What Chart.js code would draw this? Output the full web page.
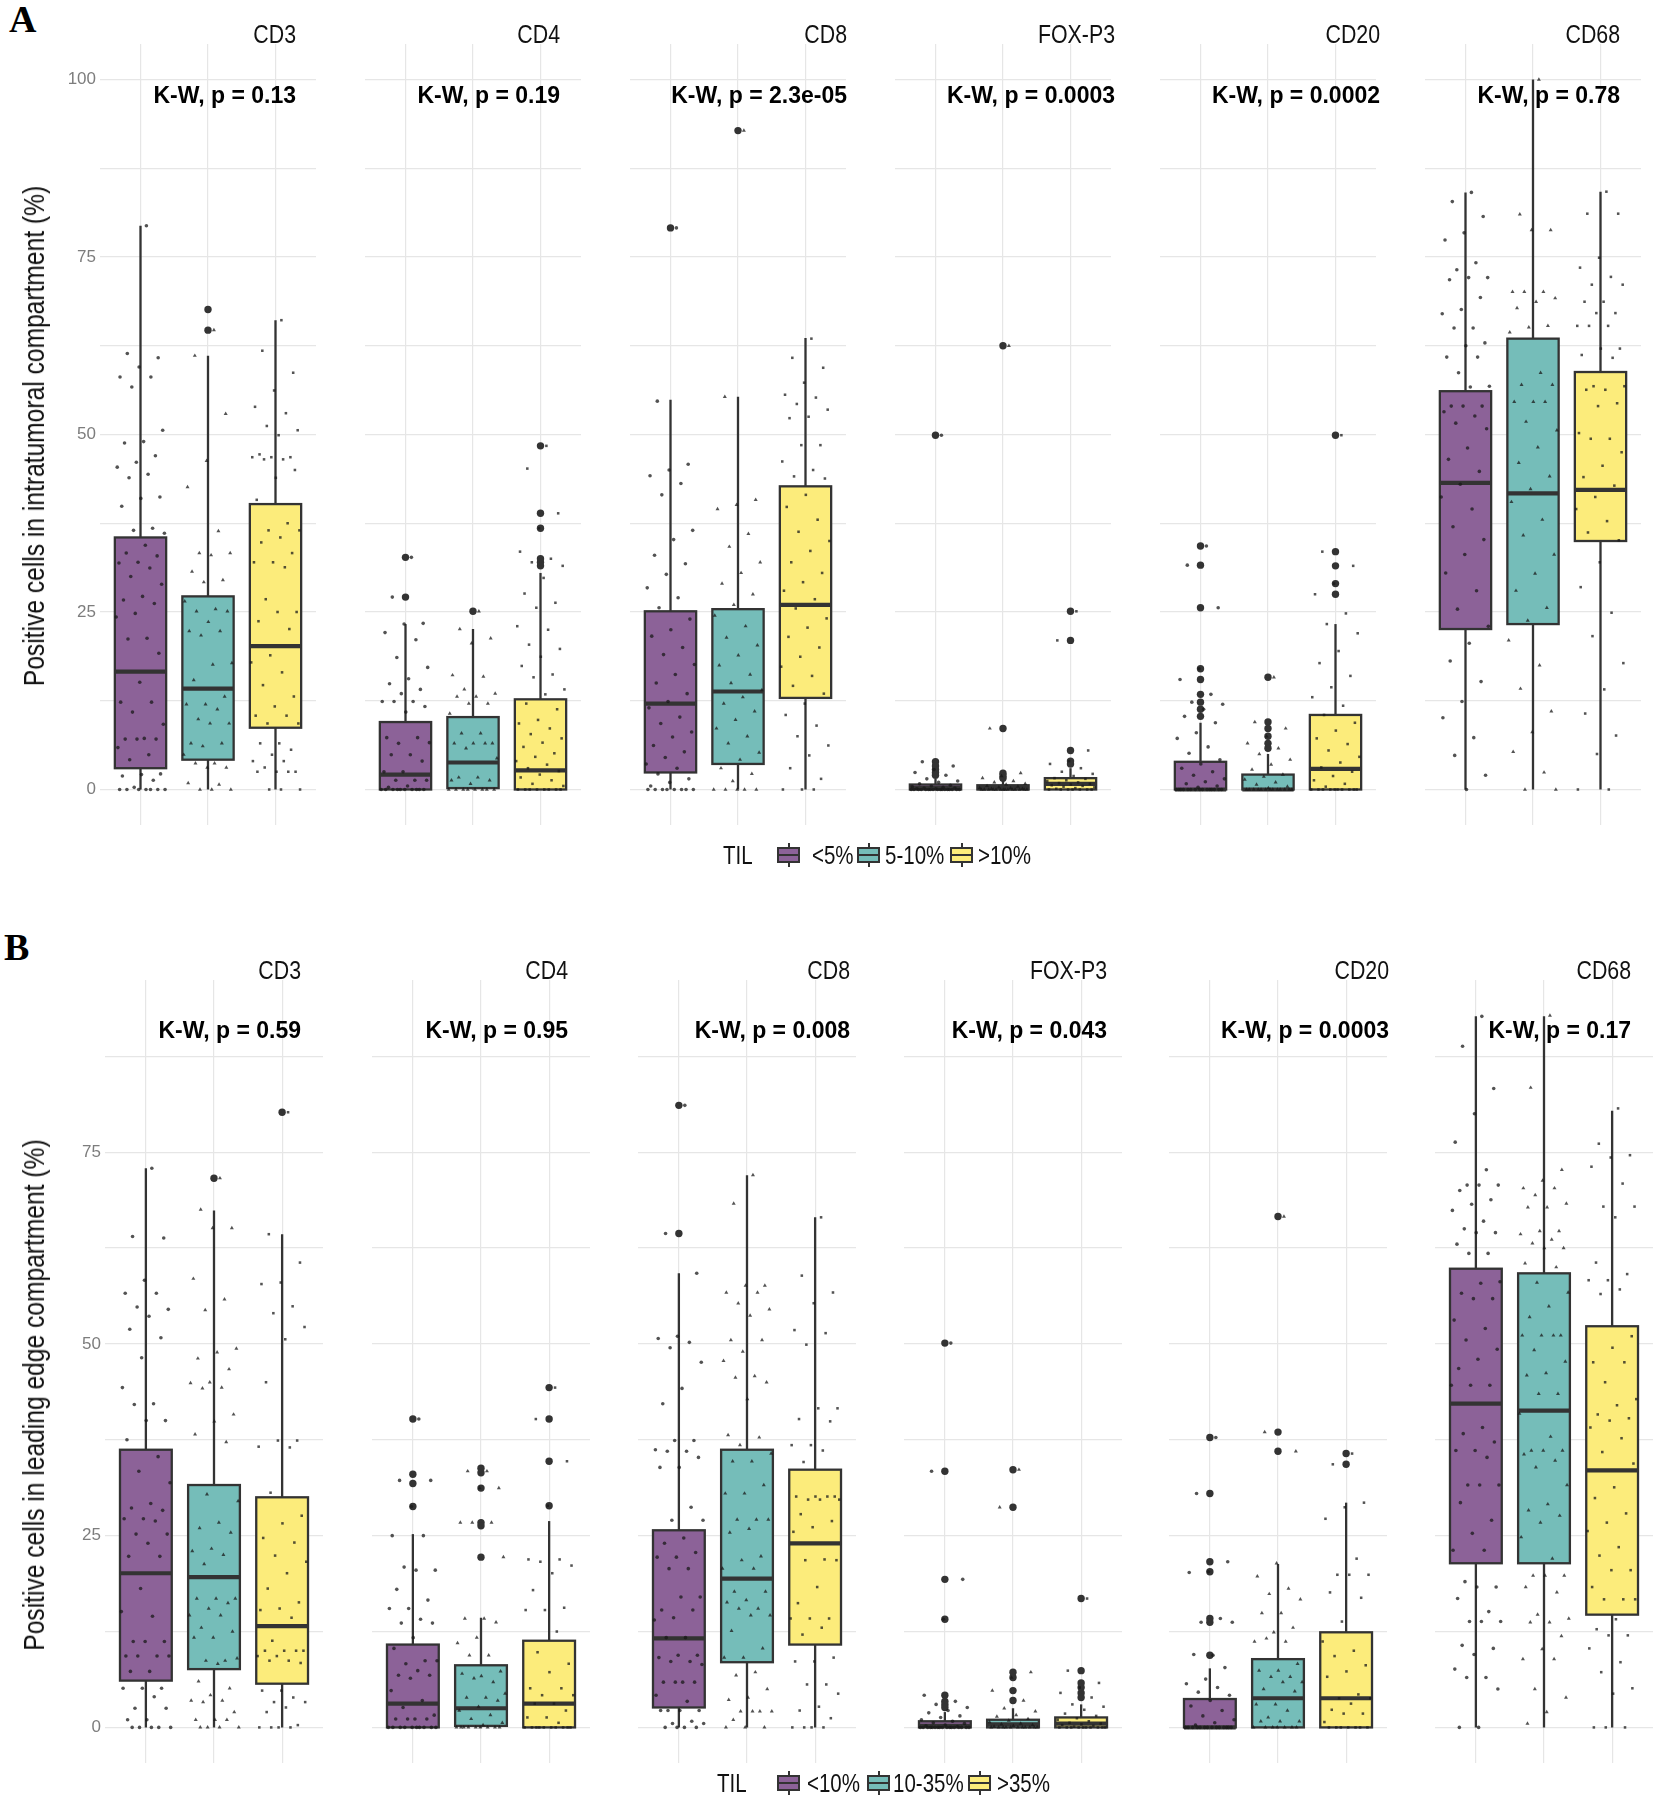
<!DOCTYPE html>
<html>
<head>
<meta charset="utf-8">
<script src="https://cdn.jsdelivr.net/npm/chart.js@4.4.1/dist/chart.umd.min.js"></script>
<style>
html,body{margin:0;padding:0;background:#fff;}
body{width:1658px;height:1800px;position:relative;overflow:hidden;}
.facet{position:absolute;}
.letter{position:absolute;font-family:'Liberation Serif','Times New Roman',serif;font-weight:bold;font-size:38px;line-height:1;color:#000;}
.ytitle{position:absolute;white-space:nowrap;font-family:'Liberation Sans',Arial,sans-serif;font-size:30px;color:#111;transform:translate(-50%,-50%) rotate(-90deg) scaleX(0.82);line-height:1;}
.ltxt{position:absolute;white-space:nowrap;font-family:'Liberation Sans',Arial,sans-serif;font-size:25px;color:#111;line-height:1;transform-origin:0 50%;transform:translateY(-50%) scaleX(0.82);}
.key{position:absolute;width:23px;height:24px;transform:translateY(-50%);}
.key .wh{position:absolute;left:10.5px;width:2px;top:0;height:24px;background:#333;}
.key .bx{position:absolute;left:0;top:4px;width:23px;height:16px;border:2px solid #333;box-sizing:border-box;}
.key .md{position:absolute;left:0;top:11px;width:23px;height:2px;background:#333;}
</style>
</head>
<body>
<script>
// ---------------- DATA ----------------
const markers = ["CD3", "CD4", "CD8", "FOX-P3", "CD20", "CD68"];
const groupsA = ["<5%", "5-10%", ">10%"];
const groupsB = ["<10%", "10-35%", ">35%"];
const pLabelsA = ["K-W, p = 0.13", "K-W, p = 0.19", "K-W, p = 2.3e-05", "K-W, p = 0.0003", "K-W, p = 0.0002", "K-W, p = 0.78"];
const pLabelsB = ["K-W, p = 0.59", "K-W, p = 0.95", "K-W, p = 0.008", "K-W, p = 0.043", "K-W, p = 0.0003", "K-W, p = 0.17"];
const yTitleA = "Positive cells in intratumoral compartment (%)";
const yTitleB = "Positive cells in leading edge compartment (%)";

// box statistics [marker][group]
const lowA  = [[0,0,0],[0,0,0],[0,0,0],[0,0,0],[0,0,0],[0,0,0]];
const q1A   = [[3.0,4.2,8.7],[0,0.2,0],[2.4,3.6,12.9],[0,0,0],[0,0,0],[22.6,23.3,35.0]];
const medA  = [[16.6,14.2,20.2],[2.1,3.8,2.7],[12.1,13.8,26.0],[0.2,0.2,0.8],[0,0,2.9],[43.2,41.7,42.2]];
const q3A   = [[35.5,27.2,40.2],[9.5,10.2,12.7],[25.1,25.4,42.7],[0.7,0.6,1.6],[3.9,2.1,10.5],[56.1,63.5,58.8]];
const highA = [[79.4,61.1,66.1],[23.3,22.6,30.5],[54.9,55.3,63.6],[1.5,1.2,3.0],[9.4,5.0,23.3],[84.1,100,84.2]];
const outA = [
  [[],[67.6,64.7],[]],
  [[32.7,27.1],[25.1],[31.5,32.0,32.5,36.8,38.9,48.4]],
  [[79.1],[92.8],[]],
  [[49.9,3.9,3.3,2.8,2.4,2.0],[62.5,8.6,2.3,1.9,1.6],[25.1,21.0,5.5,4.0,3.6]],
  [[34.3,31.6,25.6,17.0,15.5,13.4,12.3,11.3,10.3],[15.8,9.5,8.6,7.5,6.5,5.8],[49.9,33.5,31.5,29.0,27.5]],
  [[],[],[]]
];

const lowB  = [[0,0,0],[0,0,0],[0,0,0],[0,0,0],[0,0,0],[0,0,0]];
const q1B   = [[6.1,7.6,5.7],[0,0.2,0],[2.6,8.5,10.8],[0,0,0],[0,0,0],[21.4,21.4,14.7]];
const medB  = [[20.1,19.6,13.2],[3.1,2.5,3.1],[11.6,19.4,24.0],[0.2,0.4,0.5],[0,3.8,3.8],[42.2,41.3,33.5]];
const q3B   = [[36.2,31.6,30.0],[10.8,8.1,11.3],[25.7,36.2,33.6],[0.8,1.0,1.3],[3.7,8.9,12.4],[59.8,59.2,52.3]];
const highB = [[72.9,67.4,64.3],[25.2,14.3,26.9],[59.2,72.0,66.5],[2.0,2.5,3.0],[7.7,21.3,29.3],[92.7,92.7,80.4]];
const outB = [
  [[],[71.6],[80.2]],
  [[40.2,33.0,31.8,28.8],[33.8,33.2,31.2,26.7,26.3,22.2],[44.3,40.2,34.7,28.9]],
  [[81.1,64.4],[],[]],
  [[50.1,33.4,19.3,14.1,4.2,3.4,3.0,2.6],[33.6,28.7,7.2,6.5,4.8,3.5],[16.8,7.4,5.8,5.2,4.5,3.9]],
  [[37.8,30.5,21.6,20.3,14.2,13.7,9.4],[66.6,38.5,36.0],[35.7,34.3]],
  [[],[],[]]
];

// individual observations (jittered points) [group]
const ptsA_CD3 = [
  [79.4,61.4,60.8,59.5,58.1,58.1,56.7,50.6,49.0,48.8,47.0,46.1,45.4,44.4,43.9,41.2,41.0,39.9,36.8,36.5,36.1,34.4,33.3,32.9,32.0,31.9,31.2,30.0,28.9,27.2,26.7,26.2,24.8,24.3,21.3,21.2,19.2,15.1,12.3,12.3,10.9,9.2,7.2,7.1,7.1,7.1,5.9,4.9,4.2,2.2,2.1,1.9,1.3,0.3,0,0,0,0,0,0,0],
  [64.7,61.1,52.9,46.3,42.6,36.4,33.3,33.3,33.0,30.7,29.5,29.2,26.5,25.4,25.1,25.1,23.6,22.3,22.3,21.7,17.8,17.6,15.4,13.1,12.0,12.0,11.3,9.9,9.3,9.3,6.5,6.5,6.1,4.9,3.7,3.7,3.1,3.1,0.9,0.7,0,0,0],
  [66.1,61.8,58.7,56.2,53.9,53.0,51.2,50.6,49.9,47.2,46.8,46.8,46.8,46.5,46.5,45.0,43.9,40.8,37.5,36.5,36.5,35.5,34.8,33.3,32.0,32.0,31.3,26.8,25.0,25.0,23.7,22.6,18.9,17.9,16.5,14.7,13.1,11.7,10.4,10.4,9.3,9.3,6.5,6.5,5.6,4.9,4.0,4.0,3.1,2.5,2.5,2.5,2.5,0,0,0]
];
const ptsA_CD4 = [
  [32.7,27.1,23.4,23.3,22.1,21.1,18.6,17.2,15.6,14.9,14.1,13.5,12.4,12.4,12.4,11.7,10.9,7.3,7.3,6.5,6.6,4.9,4.9,4.0,2.5,2.5,1.3,1.3,1.3,0.5,0.3,0,0,0,0,0,0,0,0,0,0],
  [25.1,22.6,21.3,20.6,16.1,15.9,14.1,13.5,13.1,13.1,12.1,12.1,10.7,7.9,7.9,6.5,6.5,6.5,6.5,5.8,4.4,1.7,1.7,1.3,0.8,1.3,0,0,0,0,0,0,0,0],
  [48.4,45.2,38.9,36.8,33.5,32.5,32.0,31.5,29.8,27.6,26.3,25.6,23.0,22.5,20.4,19.8,18.7,17.4,16.2,15.8,14.1,13.4,12.1,11.3,9.8,9.3,8.6,7.8,7.2,6.6,6.0,5.1,4.6,4.0,3.5,3.0,2.6,2.1,1.7,1.3,0.8,0.5,0,0,0,0,0,0,0,0]
];
const ptsA_CD8 = [
  [79.1,54.7,45.8,45.0,44.2,43.1,41.5,36.5,35.2,33.0,31.8,30.3,28.4,27.0,25.6,24.0,22.5,21.6,20.0,19.0,17.6,16.2,15.0,13.5,12.4,11.5,10.2,9.3,8.1,7.4,6.2,5.3,4.5,3.6,3.0,2.2,1.5,1.0,0.5,0,0,0,0,0,0,0,0],
  [92.8,55.3,40.8,40.1,39.5,36.0,34.2,32.0,30.5,29.0,27.5,26.0,24.5,23.0,21.4,20.3,18.9,17.5,16.2,15.0,14.0,13.0,12.1,11.0,9.8,8.6,7.5,6.5,5.2,4.2,3.0,2.2,1.2,0,0,0,0,0],
  [63.5,60.8,59.4,57.3,55.6,55.2,54.3,53.5,52.5,52.3,48.5,48.5,46.2,45.0,44.1,43.8,41.5,39.8,38.0,36.3,35.0,33.6,32.0,30.5,29.2,28.0,26.8,25.5,24.1,22.8,21.5,20.0,18.7,17.3,16.0,14.6,13.5,12.1,10.5,9.0,7.5,6.2,4.8,3.0,1.5,0,0,0]
];
const ptsA_FOXP3 = [
  [49.9,3.9,3.3,2.8,2.4,2.0,1.5,1.2,1.0,0.8,0.6,0.5,0.4,0.3,0.2,0.2,0.1,0.1,0,0,0,0,0,0,0,0,0,0,0,0,0,0,0,0,0],
  [62.5,8.6,2.3,1.9,1.6,1.2,1.0,0.8,0.7,0.5,0.4,0.3,0.2,0.2,0.1,0.1,0,0,0,0,0,0,0,0,0,0,0,0,0,0],
  [25.1,21.0,5.5,4.0,3.6,3.0,2.5,2.2,1.9,1.6,1.5,1.3,1.2,1.0,0.9,0.8,0.7,0.6,0.5,0.4,0.3,0.2,0.1,0,0,0,0,0,0,0]
];
const ptsA_CD20 = [
  [34.3,31.6,25.6,17.0,15.5,13.4,12.3,12.0,11.3,10.3,9.4,8.0,7.2,6.0,5.1,4.2,3.6,3.0,2.5,2.0,1.5,1.1,0.8,0.5,0.3,0,0,0,0,0,0,0,0,0,0,0,0,0,0,0],
  [15.8,9.5,8.6,7.5,6.5,5.8,5.0,4.2,3.5,2.8,2.1,1.8,1.4,1.0,0.7,0.4,0.2,0,0,0,0,0,0,0,0,0,0,0,0,0],
  [49.9,33.5,31.5,29.0,27.5,24.8,23.3,22.0,19.5,17.8,16.0,14.4,13.0,11.8,10.5,9.4,8.3,7.2,6.4,5.5,4.6,3.8,3.1,2.5,1.9,1.3,0.8,0.4,0,0,0,0,0,0,0,0,0,0]
];
const ptsA_CD68 = [
  [84.1,82.8,80.7,78.4,77.4,74.2,73.2,72.1,72.1,71.8,69.3,67.6,67.0,65.0,65.0,62.9,62.5,60.9,60.9,58.7,56.8,56.7,54.0,54.0,54.0,53.2,52.6,51.6,50.8,48.1,46.5,44.8,43.0,41.2,39.5,37.0,35.2,33.1,30.5,28.0,25.4,23.0,20.6,18.1,15.2,12.4,10.1,7.3,4.8,2.0,0],
  [100,81.0,78.8,78.8,70.1,70.1,70.1,69.2,68.7,67.8,65.3,65.1,64.4,58.7,57.0,57.0,54.6,54.6,54.6,51.8,50.6,48.2,46.0,44.1,42.3,40.5,38.0,35.8,33.1,30.4,28.0,25.6,23.8,21.0,17.5,14.2,11.0,8.1,5.3,2.4,0,0],
  [84.2,81.1,81.1,74.9,73.5,72.2,71.1,71.1,68.7,68.7,67.1,67.1,65.3,65.3,65.3,62.1,62.1,61.2,60.8,56.8,56.8,56.3,56.3,54.4,54.0,50.2,49.4,49.4,47.5,45.6,44.0,42.8,41.2,39.5,37.8,36.2,35.1,32.0,28.5,24.9,21.6,17.8,14.1,10.7,7.6,5.0,0,0]
];

const ptsB_CD3 = [
  [72.9,64.0,63.8,58.3,56.6,56.6,54.8,54.5,53.6,51.9,50.8,48.2,44.3,42.2,42.1,40.0,40.0,37.5,35.3,33.4,31.9,29.2,28.6,28.3,27.2,27.2,26.9,25.2,25.2,24.0,22.3,22.3,18.1,15.1,14.5,11.2,11.2,11.2,9.3,9.3,9.3,9.3,7.3,7.3,5.1,5.1,5.1,4.0,2.5,2.5,1.0,1.0,0,0,0,0,0],
  [71.6,67.5,65.1,65.1,58.5,55.8,54.4,49.4,48.9,48.1,46.7,45.0,44.9,44.3,44.2,40.8,39.9,38.2,37.2,30.4,29.5,26.7,26.0,25.4,23.3,23.0,22.5,21.3,16.8,16.8,16.8,16.2,15.5,14.6,14.6,13.0,12.5,11.7,11.7,8.7,8.7,9.0,8.3,6.0,5.1,4.2,3.5,3.5,3.3,2.0,1.0,1.0,1.0,0,0,0,0],
  [80.2,64.3,60.6,58.0,57.8,54.9,54.0,52.2,50.6,45.0,37.4,37.4,36.6,36.5,30.6,27.6,26.6,24.7,24.1,22.4,21.6,20.1,18.1,16.3,15.5,15.3,14.3,11.3,10.0,10.0,10.0,10.0,9.3,9.3,8.7,8.7,8.4,4.8,4.8,3.9,3.3,3.3,2.6,2.0,0.3,0,0,0,0]
];
const ptsB_CD4 = [
  [40.2,32.2,32.2,28.8,25.0,25.0,20.9,20.5,20.5,18.0,16.6,15.5,15.5,14.1,13.6,13.6,11.7,10.3,8.7,8.3,8.7,7.4,6.8,6.8,6.4,4.8,3.5,2.6,1.6,1.1,1.1,1.1,1.1,0,0,0,0,0,0,0,0,0,0],
  [33.4,33.4,31.2,31.2,26.7,26.7,26.7,22.2,14.2,14.2,13.7,11.7,11.0,9.4,9.4,7.3,6.7,7.0,5.9,6.4,4.4,3.9,3.9,3.5,2.7,2.2,1.6,1.1,0.6,0.3,0,0,0,0,0,0,0,0,0],
  [44.3,40.2,34.7,28.9,21.9,21.9,21.6,21.1,20.1,17.9,15.6,15.3,15.3,12.5,9.8,8.3,7.2,5.1,5.1,4.2,4.2,3.1,3.1,2.2,1.3,1.3,0.6,0,0,0,0,0,0,0,0,0,0]
];
const ptsB_CD8 = [
  [81.1,64.4,59.2,51.0,50.7,50.2,49.5,47.6,44.2,42.2,37.4,37.4,36.2,36.0,36.0,35.2,33.9,33.9,28.7,27.0,27.0,24.7,24.0,22.8,22.2,22.2,20.7,20.7,17.0,17.0,15.3,15.3,14.3,14.0,11.7,11.7,9.4,9.4,9.1,8.6,8.6,8.2,5.9,5.9,5.9,5.9,4.2,3.4,2.2,2.2,2.2,2.2,0.8,0.5,0.5,0,0,0,0],
  [72.0,68.3,57.6,57.6,56.7,56.7,55.3,54.5,53.7,50.5,50.5,49.0,47.8,45.8,45.6,45.0,42.8,38.1,37.8,36.8,35.7,34.7,34.7,31.6,30.5,30.5,27.1,27.1,27.1,25.9,25.4,22.3,21.8,20.7,20.7,17.7,17.7,16.6,16.3,15.5,15.5,14.6,14.6,12.6,10.3,9.1,9.1,7.2,6.8,5.0,3.9,3.6,2.1,2.1,2.1,2.1,1.0,0,0,0],
  [66.5,58.9,56.7,55.3,51.8,51.4,49.9,41.6,41.6,40.2,39.9,36.8,36.8,36.1,34.6,30.1,30.1,30.1,30.1,29.7,29.7,29.7,27.8,26.9,26.1,25.5,21.9,21.8,21.8,18.3,16.2,14.2,14.2,14.2,13.0,12.1,9.1,8.6,8.6,5.6,5.6,4.4,2.7,2.2,1.2,0,0,0,0]
];
const ptsB_FOXP3 = [
  [50.1,33.4,19.3,14.1,4.2,3.4,3.0,2.6,2.2,1.9,1.5,1.3,1.0,0.8,0.6,0.5,0.3,0.2,0.1,0,0,0,0,0,0,0,0,0,0,0,0,0,0,0,0,0],
  [33.6,28.7,7.2,6.5,4.8,3.5,2.5,2.1,1.6,1.4,1.1,0.9,0.7,0.5,0.4,0.3,0.2,0.1,0,0,0,0,0,0,0,0,0,0,0],
  [16.8,7.4,5.8,5.2,4.5,3.9,3.0,2.7,2.3,1.8,1.5,1.2,1.0,0.8,0.6,0.5,0.4,0.3,0.2,0.1,0,0,0,0,0,0,0,0,0,0]
];
const ptsB_CD20 = [
  [37.8,30.5,21.6,20.3,20.2,14.2,13.7,13.7,9.4,9.5,7.8,6.3,5.7,5.2,4.6,4.2,3.5,2.8,2.2,1.5,1.0,0.6,0.3,0,0,0,0,0,0,0,0,0,0,0,0,0,0],
  [66.6,38.5,36.0,21.4,19.7,18.1,17.4,16.7,14.9,14.9,13.0,12.4,11.2,11.2,11.6,8.3,7.4,7.4,6.6,6.6,5.9,5.9,5.0,4.7,3.0,3.0,2.2,1.3,0.8,0.8,0.8,0,0,0,0,0,0,0],
  [35.7,34.3,29.3,28.7,27.2,22.0,19.9,19.9,19.9,17.6,16.9,13.8,11.2,10.0,9.3,8.1,7.3,6.6,4.3,3.8,3.8,3.1,2.3,1.8,1.8,0.7,0,0,0,0,0,0,0]
];
const ptsB_CD68 = [
  [92.7,88.8,83.3,80.0,76.3,72.7,70.7,70.7,70.7,70.0,68.8,68.2,67.4,66.0,65.0,64.5,64.5,63.0,61.8,61.8,58.1,57.9,56.6,55.9,55.9,53.1,52.0,50.5,49.3,48.0,46.8,44.6,44.6,44.6,39.1,38.3,37.2,36.1,36.1,35.2,31.6,31.6,31.6,29.3,27.0,25.3,23.1,23.1,19.0,18.3,18.3,16.8,15.1,13.8,13.8,13.8,10.7,10.3,9.5,7.6,6.5,6.5,5.0,0,0],
  [92.8,83.4,72.7,71.3,70.3,70.3,69.4,68.3,67.8,67.8,64.7,64.7,64.3,63.6,63.1,62.5,62.5,60.5,60.0,58.0,56.7,54.9,53.5,51.1,51.1,51.1,51.1,49.2,47.7,46.2,45.9,43.5,43.5,40.9,37.9,36.1,36.1,36.1,35.6,34.8,33.9,31.6,29.1,28.3,27.6,26.7,24.8,22.0,19.8,19.8,19.8,18.3,17.6,14.7,14.2,13.7,13.7,11.9,10.2,8.9,8.9,5.0,3.9,2.0,0.5],
  [80.7,76.1,74.6,74.3,73.1,70.9,67.9,67.9,66.5,60.6,59.1,58.3,58.3,57.1,56.5,51.0,49.5,47.6,47.6,45.0,42.8,42.0,40.8,40.3,40.0,39.1,37.7,35.9,34.4,31.3,29.9,27.9,26.7,25.6,23.5,22.4,20.5,20.5,18.3,16.7,16.7,16.7,14.1,12.8,12.0,12.0,10.3,8.5,7.2,5.1,4.4,0,0,0]
];
const ptsA = [ptsA_CD3, ptsA_CD4, ptsA_CD8, ptsA_FOXP3, ptsA_CD20, ptsA_CD68];
const ptsB = [ptsB_CD3, ptsB_CD4, ptsB_CD8, ptsB_FOXP3, ptsB_CD20, ptsB_CD68];

// ---------------- STYLE / LAYOUT ----------------
const SANS = "'Liberation Sans',Arial,sans-serif";
const NARROW_SCALE = 0.82;
const FILLS = ['#8C6298', '#75BDB9', '#FCEC7B'];
const SHAPES = ['circle', 'triangle', 'rect'];
const GRID = '#e6e6e6';
const INK = '#333333';
const BOXW = 0.76;
const YW = 60, PT = 50, PR = 30, PB = 30;

const layoutA = { L: [100, 365, 630, 895, 1160, 1425], W: 216, T: 44, B: 825,
                  textDx: [-20, -21, 1, 4, 4, -21], titleDy: -8, kwDy: 53 };
const layoutB = { L: [105, 372, 638, 904, 1169, 1435], W: 218, T: 980, B: 1763,
                  textDx: [-22, -22, -6, -15, 2, -22], titleDy: -8, kwDy: 52 };

const jitter = i => ((((i + 1) * 0.6180339887) % 1) - 0.5) * 0.74;

function panelRange(low, high, outs, pts) {
  let mx = -Infinity, mn = Infinity;
  const upd = v => { if (v > mx) mx = v; if (v < mn) mn = v; };
  low.flat().forEach(upd); high.flat().forEach(upd);
  outs.flat(2).forEach(upd); pts.flat(2).forEach(upd);
  const pad = 0.05 * (mx - mn);
  return [mn - pad, mx + pad];
}

function makeFacet(lay, m, stats, outs, pts, pLabel, yRange, showTicks) {
  const L = lay.L[m], W = lay.W, H = lay.B - lay.T;
  const div = document.createElement('div');
  div.className = 'facet';
  div.style.left = (L - YW) + 'px';
  div.style.top = (lay.T - PT) + 'px';
  div.style.width = (W + YW + PR) + 'px';
  div.style.height = (H + PT + PB) + 'px';
  const cv = document.createElement('canvas');
  div.appendChild(cv);
  document.body.appendChild(div);

  const datasets = [];
  for (let g = 0; g < 3; g++) {
    datasets.push({
      label: 'pts' + g,
      data: pts[g].map((v, i) => ({ x: g + 1 + jitter(i), y: v })),
      pointStyle: SHAPES[g],
      pointRadius: g === 1 ? 2.3 : 1.8,
      backgroundColor: 'rgba(25,25,25,0.75)',
      borderColor: 'rgba(25,25,25,0.75)',
      borderWidth: 0,
      order: 1
    });
  }
  const outPts = [];
  for (let g = 0; g < 3; g++) outs[g].forEach(v => outPts.push({ x: g + 1, y: v }));
  datasets.push({
    label: 'outliers', data: outPts, pointStyle: 'circle', pointRadius: 3.7,
    backgroundColor: INK, borderColor: INK, borderWidth: 0, order: 2
  });

  const boxPlugin = {
    id: 'boxes' + m,
    beforeDatasetsDraw(chart) {
      const { ctx, scales: { x, y } } = chart;
      ctx.save();
      for (let g = 0; g < 3; g++) {
        const s = stats[g];
        const cx = x.getPixelForValue(g + 1);
        const x0 = x.getPixelForValue(g + 1 - BOXW / 2);
        const x1 = x.getPixelForValue(g + 1 + BOXW / 2);
        const yLo = y.getPixelForValue(s.lo), yQ1 = y.getPixelForValue(s.q1);
        const yMd = y.getPixelForValue(s.med), yQ3 = y.getPixelForValue(s.q3);
        const yHi = y.getPixelForValue(s.hi);
        ctx.strokeStyle = INK;
        ctx.lineWidth = 2.3;
        ctx.beginPath();
        ctx.moveTo(cx, yHi); ctx.lineTo(cx, yQ3);
        ctx.moveTo(cx, yQ1); ctx.lineTo(cx, yLo);
        ctx.stroke();
        ctx.fillStyle = FILLS[g];
        ctx.fillRect(x0, yQ3, x1 - x0, yQ1 - yQ3);
        ctx.strokeRect(x0, yQ3, x1 - x0, yQ1 - yQ3);
        ctx.lineWidth = 4.2;
        ctx.beginPath();
        ctx.moveTo(x0, yMd); ctx.lineTo(x1, yMd);
        ctx.stroke();
      }
      ctx.restore();
    },
    afterDraw(chart) {
      const { ctx, chartArea } = chart;
      const xr = chartArea.right + lay.textDx[m];
      ctx.save();
      ctx.textAlign = 'right';
      ctx.textBaseline = 'middle';
      // strip title (narrow face emulated by horizontal scaling)
      ctx.save();
      ctx.translate(xr, chartArea.top + lay.titleDy);
      ctx.scale(NARROW_SCALE, 1);
      ctx.fillStyle = '#111';
      ctx.font = '26px ' + SANS;
      ctx.fillText(markers[m], 0, 0);
      ctx.restore();
      ctx.fillStyle = '#000';
      ctx.font = 'bold 23px ' + SANS;
      ctx.fillText(pLabel, xr, chartArea.top + lay.kwDy);
      ctx.restore();
    }
  };

  new Chart(cv, {
    type: 'scatter',
    data: { datasets },
    plugins: [boxPlugin],
    options: {
      responsive: true, maintainAspectRatio: false, animation: false,
      events: [],
      layout: { autoPadding: false, padding: { top: PT, right: PR, bottom: PB, left: 0 } },
      plugins: { legend: { display: false }, tooltip: { enabled: false }, title: { display: false } },
      scales: {
        x: {
          type: 'linear', position: 'bottom', min: 0.4, max: 3.6,
          afterBuildTicks: s => { s.ticks = [1, 2, 3].map(v => ({ value: v })); },
          afterFit: s => { s.height = 0; s.paddingLeft = 0; s.paddingRight = 0; },
          ticks: { display: false, autoSkip: false },
          grid: { color: GRID, lineWidth: 1.2, drawTicks: false },
          border: { display: false }
        },
        y: {
          type: 'linear', position: 'left', min: yRange[0], max: yRange[1],
          afterBuildTicks: s => {
            const t = [];
            for (let v = 0; v <= s.max + 1e-9; v += 12.5) t.push({ value: v });
            s.ticks = t;
          },
          afterFit: s => { s.width = YW; s.paddingTop = 0; s.paddingBottom = 0; },
          ticks: {
            display: true, autoSkip: false, padding: 4,
            color: showTicks ? '#7d7d7d' : 'rgba(0,0,0,0)',
            font: { family: SANS, size: 17 },
            callback: v => (Math.abs(v % 25) < 1e-9 ? String(v) : '')
          },
          grid: { color: GRID, lineWidth: 1.2, drawTicks: false },
          border: { display: false }
        }
      }
    }
  });
}

function buildPanel(lay, low, q1, med, q3, high, outs, pts, pLabels) {
  const yRange = panelRange(low, high, outs, pts);
  for (let m = 0; m < markers.length; m++) {
    const stats = [0, 1, 2].map(g => ({ lo: low[m][g], q1: q1[m][g], med: med[m][g], q3: q3[m][g], hi: high[m][g] }));
    makeFacet(lay, m, stats, outs[m], pts[m], pLabels[m], yRange, m === 0);
  }
}

function addText(cls, txt, css) {
  const d = document.createElement('div');
  d.className = cls;
  d.textContent = txt;
  Object.assign(d.style, css);
  document.body.appendChild(d);
  return d;
}
function addKey(x, y, fill) {
  const k = document.createElement('div');
  k.className = 'key';
  k.style.left = x + 'px'; k.style.top = y + 'px';
  k.innerHTML = '<div class="wh"></div><div class="bx" style="background:' + fill + '"></div><div class="md"></div>';
  document.body.appendChild(k);
}
function buildLegend(y, tilX, groups, keyX, txtX) {
  addText('ltxt', 'TIL', { left: tilX + 'px', top: y + 'px' });
  for (let g = 0; g < 3; g++) {
    addKey(keyX[g], y, FILLS[g]);
    addText('ltxt', groups[g], { left: txtX[g] + 'px', top: y + 'px' });
  }
}

buildPanel(layoutA, lowA, q1A, medA, q3A, highA, outA, ptsA, pLabelsA);
buildPanel(layoutB, lowB, q1B, medB, q3B, highB, outB, ptsB, pLabelsB);

addText('letter', 'A', { left: '9px', top: '0px' });
addText('letter', 'B', { left: '4px', top: '928px' });
addText('ytitle', yTitleA, { left: '34px', top: '436px' });
addText('ytitle', yTitleB, { left: '34px', top: '1395px' });
buildLegend(855, 723, groupsA, [777, 857, 950], [812, 885, 978]);
buildLegend(1783, 717, groupsB, [777, 867, 968], [807, 893, 997]);
</script>
</body>
</html>
